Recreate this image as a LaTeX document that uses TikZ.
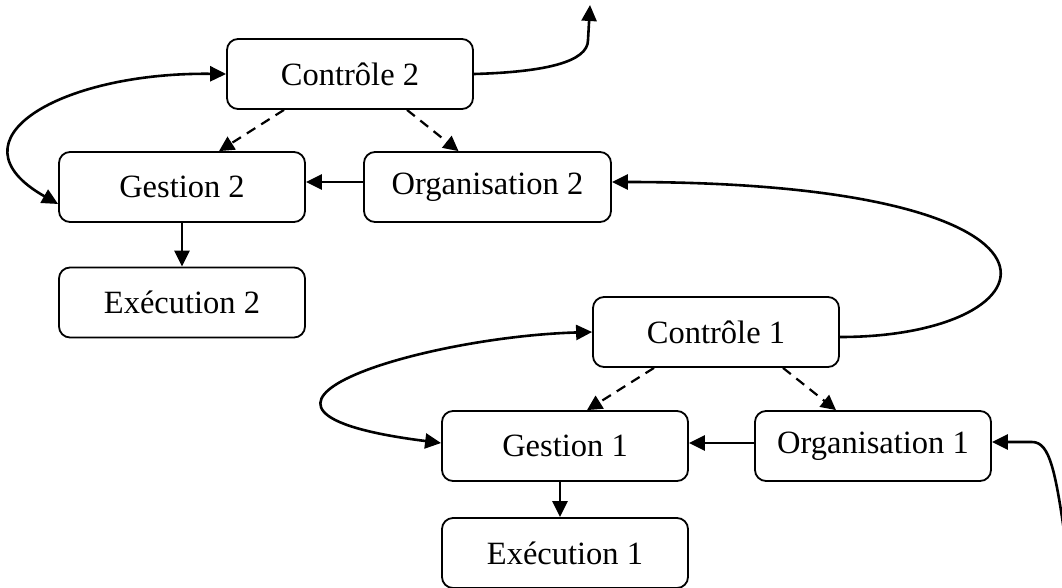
\documentclass[tikz,border=0pt]{standalone}
\usepackage{fontspec}
\setmainfont{Liberation Serif}
\usetikzlibrary{arrows.meta}
\begin{document}
\begin{tikzpicture}[x=1pt,y=-1pt,
  box/.style={draw,line width=1.8pt,rounded corners=11pt,minimum width=246pt,minimum height=70pt,inner sep=0pt,font=\fontsize{32.5}{38}\selectfont},
  conn/.style={line width=2.6pt,-{Triangle[length=16pt,width=15pt]}},
  both/.style={line width=2.6pt,{Triangle[length=16pt,width=15pt]}-{Triangle[length=16pt,width=15pt]}},
  dconn/.style={line width=2.2pt,dash pattern=on 10pt off 7pt,-{Triangle[length=15pt,width=15pt]}}]
\useasboundingbox (0,0) rectangle (1062,587);
\node[box] (c2) at (350,74) {Contrôle 2};
\node[box] (g2) at (182,187) {Gestion 2};
\node[box,minimum width=247pt] (o2) at (487.5,187) {Organisation 2};
\node[box] (e2) at (182,302.5) {Exécution 2};
\node[box] (c1) at (716,332) {Contrôle 1};
\node[box] (g1) at (565,446) {Gestion 1};
\node[box,minimum width=236pt] (o1) at (873,446) {Organisation 1};
\node[box] (e1) at (565,553) {Exécution 1};
\coordinate (top) at (590,5);
\coordinate (in1) at (1068,560);
% upper level
\draw[dconn] ([xshift=-66pt]c2.south) -- ([xshift=37pt]g2.north);
\draw[dconn] ([xshift=57pt]c2.south) -- ([xshift=-29pt]o2.north);
\draw[conn] ([yshift=5pt]o2.west) -- ([yshift=5pt]g2.east);
\draw[conn] (g2.south) -- (e2.north);
\draw[both] (c2.west) .. controls (60,72) and (-55,140) .. ([yshift=-17pt]g2.west);
\draw[conn] (c2.east) .. controls (545,72) and (588,62) .. (588,40) -- (top);
% lower level
\draw[dconn] ([xshift=-62pt]c1.south) -- ([xshift=22pt]g1.north);
\draw[dconn] ([xshift=67pt]c1.south) -- ([xshift=-37pt]o1.north);
\draw[conn] ([yshift=3pt]o1.west) -- ([yshift=3pt]g1.east);
\draw[conn] ([xshift=-5pt]g1.south) -- ([xshift=-5pt]e1.north);
\draw[both] (c1.west) .. controls (420,337) and (180,410) .. ([yshift=3pt]g1.west);
\draw[conn] ([yshift=-5pt]c1.east) .. controls (1060,337) and (1110,182) .. ([yshift=5pt]o2.east);
\draw[conn] (in1) .. controls (1056,470) and (1050,442) .. (1032,442) -- ([yshift=4pt]o1.east);
\end{tikzpicture}
\end{document}
